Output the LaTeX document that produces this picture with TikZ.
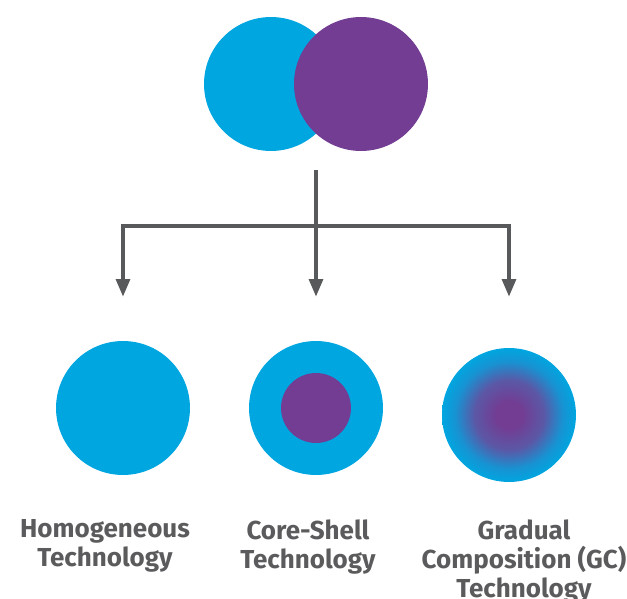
\documentclass[tikz,border=0pt]{standalone}
\usepackage{fontspec}
\setmainfont{Fira Sans}
\usetikzlibrary{arrows.meta, positioning}

\definecolor{techblue}{HTML}{00A6E0}
\definecolor{techpurple}{HTML}{723D93}
\definecolor{gcmid}{HTML}{5B58A6}
\definecolor{gcring}{HTML}{1892D2}
\definecolor{linegray}{HTML}{58595B}
\definecolor{textgray}{HTML}{5B5B5D}

\pgfdeclareradialshading{gcshade}{\pgfpoint{0bp}{0bp}}{%
  color(0bp)=(techpurple);
  color(5bp)=(techpurple);
  color(13bp)=(gcmid);
  color(20bp)=(gcring);
  color(25bp)=(techblue);
  color(50bp)=(techblue)}

\tikzset{
  bubble/.style={circle, minimum size=2.68cm, inner sep=0pt},
  branch/.style={draw=linegray, line width=2.5pt},
  tech/.style={anchor=north, align=center, inner sep=0pt, text=textgray,
    font=\bfseries\fontsize{14.8}{16.5}\selectfont}
}

\begin{document}
\begin{tikzpicture}[x=0.02cm, y=-0.02cm]
  \useasboundingbox (0,0) rectangle (627,599);
  % the two materials
  \node[bubble, fill=techblue] (blue) at (271,84) {};
  \node[bubble, fill=techpurple] (purple) at (361,84) {};
  % the three technologies
  \node[bubble, fill=techblue] (hom) at (123,408) {};
  \node[bubble, fill=techblue] (cs) at (316,408) {};
  \node[circle, minimum size=1.4cm, inner sep=0pt, fill=techpurple] (core) at (cs) {};
  \node[bubble, shading=gcshade] (gc) at (509,415) {};
  % tree of arrows
  \coordinate (stem) at (316,170);
  \coordinate (fork) at (316,226);
  \coordinate (homin) at (123,297);
  \coordinate (csin) at (316,297);
  \coordinate (gcin) at (509,297);
  \draw[branch] (stem) -- (fork);
  \draw[branch, -{Triangle[length=0.36cm, width=0.27cm]}] (fork) -| (homin);
  \draw[branch, -{Triangle[length=0.36cm, width=0.27cm]}] (fork) -- (csin);
  \draw[branch, -{Triangle[length=0.36cm, width=0.27cm]}] (fork) -| (gcin);
  % labels
  \node[tech] (homtext) at (105,519) {Homogeneous\\Technology};
  \node[tech] (cstext) at (308,519) {Core-Shell\\Technology};
  \node[tech] (gctext) at (524,519) {Gradual\\Composition (GC)\\Technology};
\end{tikzpicture}
\end{document}
